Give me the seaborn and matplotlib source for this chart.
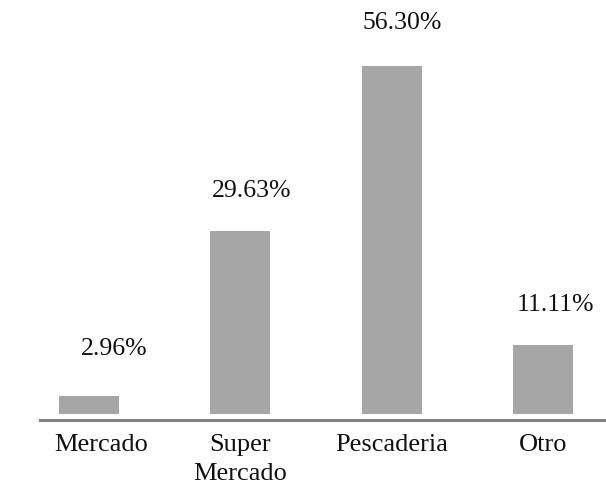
import matplotlib
matplotlib.use("Agg")
import matplotlib.pyplot as plt
import matplotlib.transforms as mtransforms
import seaborn as sns
import pandas as pd

# Purchase location shares (%)
categories = ["Mercado", "Super\nMercado", "Pescaderia", "Otro"]
shares = [2.96, 29.63, 56.30, 11.11]
share_labels = ["2.96%", "29.63%", "56.30%", "11.11%"]

df = pd.DataFrame({"lugar": categories, "porcentaje": shares})

sns.set_theme(style="white")
plt.rcParams["font.family"] = ["Liberation Serif", "DejaVu Serif"]

W, H = 606, 482
fig = plt.figure(figsize=(W / 100, H / 100), dpi=100)
base_px = 420.0
top_px = 18.5
ax = fig.add_axes([40 / W, (H - base_px) / H, 1 - 40 / W, (base_px - top_px) / H])

sns.barplot(data=df, x="lugar", y="porcentaje", color="#a6a6a6",
            saturation=1, width=0.397, ax=ax, edgecolor="none")

ax.set_xlim(-0.324, 3.417)
# small gap between the bars and the axis line
ax.set_ylim(-0.97, 64)
ax.set_xlabel("")
ax.set_ylabel("")
ax.set_yticks([])
for s in ["top", "right", "left"]:
    ax.spines[s].set_visible(False)
ax.spines["bottom"].set_color("#828282")
ax.spines["bottom"].set_linewidth(2.2)

ax.tick_params(axis="x", length=0, pad=10, labelsize=19, labelcolor="#111111")
for lbl in ax.get_xticklabels():
    lbl.set_linespacing(1.4)
# the first category label sits a little to the right of its bar
first = ax.get_xticklabels()[0]
first.set_transform(first.get_transform() +
                    mtransforms.ScaledTranslation(12 / 100, 0, fig.dpi_scale_trans))

# value labels above each bar (offsets in pixels)
label_dx = [25, 11, 11, 13]
label_dy = [47, 40, 43, 40]
for i, (v, txt) in enumerate(zip(shares, share_labels)):
    ax.annotate(txt, xy=(i, v), xytext=(label_dx[i], label_dy[i]),
                textcoords="offset pixels", ha="center", va="center",
                fontsize=18.5, color="#111111", annotation_clip=False)

fig.savefig("out.png", dpi=100)
